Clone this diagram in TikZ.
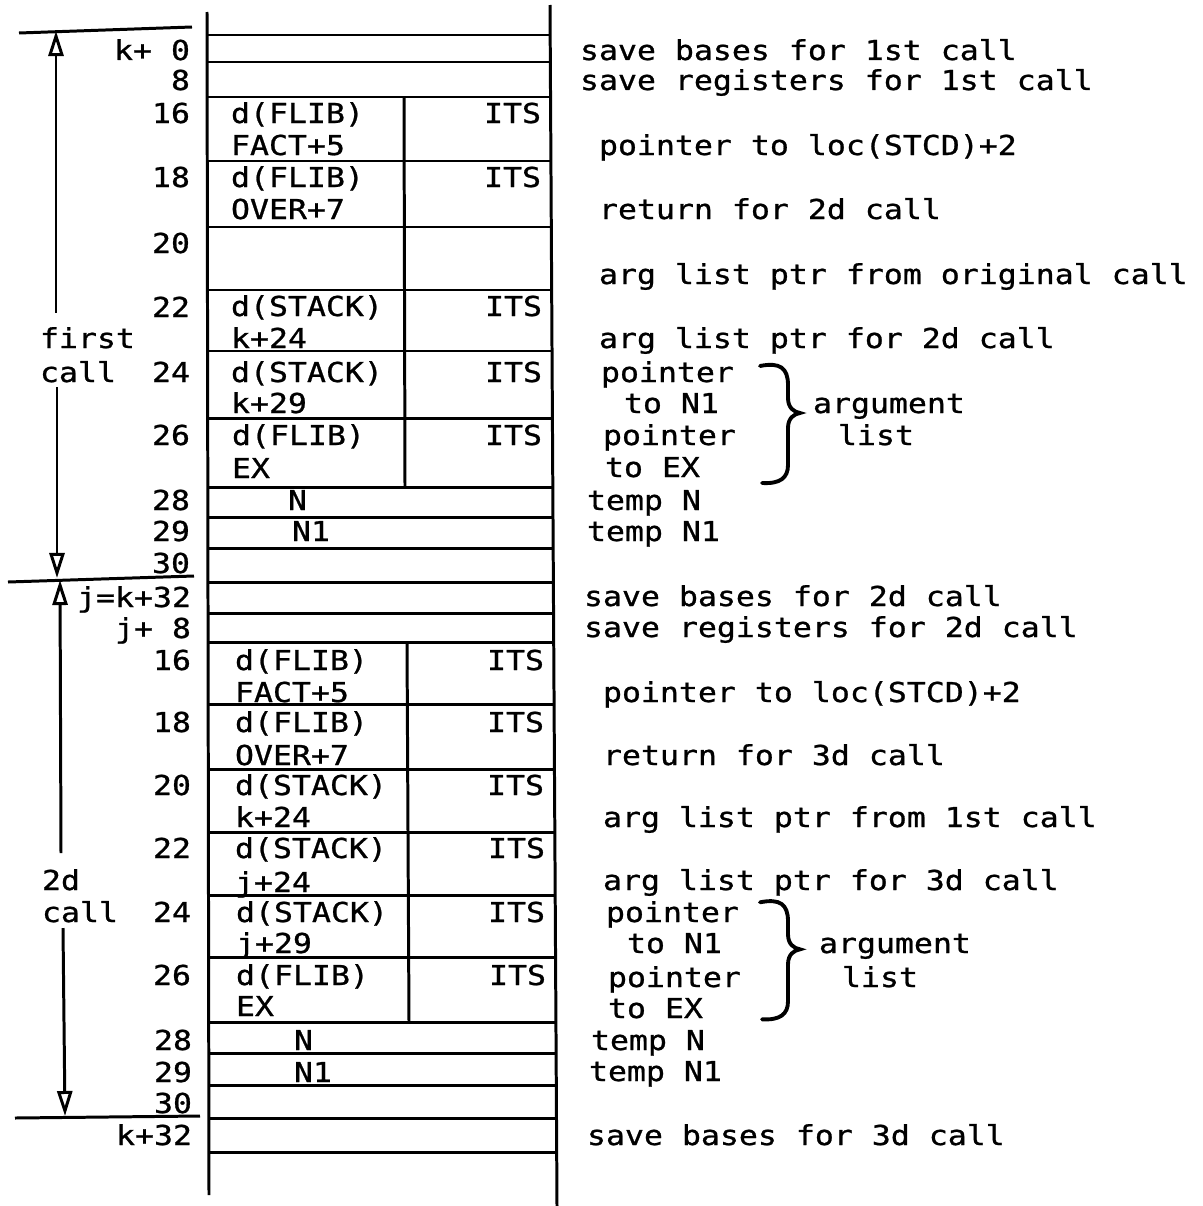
\documentclass[tikz,border=0pt]{standalone}
\usepackage{fontspec}
\newfontfamily\tw[FakeStretch=1.15,FakeBold=0.9]{DejaVu Sans Mono}
\usetikzlibrary{arrows.meta}
\begin{document}
\begin{tikzpicture}[x=0.01cm,y=-0.01cm,
  txt/.style={inner sep=0pt, outer sep=0pt, font=\tw\fontsize{7.8pt}{9pt}\selectfont},
  lab/.style={txt, anchor=base east},
  celltxt/.style={txt, anchor=base west},
  desc/.style={txt, anchor=base west},
  rule/.style={line width=0.85pt},
  span/.style={line width=0.85pt},
  tipup/.style={line width=0.85pt, {Triangle[open,length=0.25cm,width=0.15cm]}-},
  tipdown/.style={line width=0.85pt, -{Triangle[open,length=0.25cm,width=0.15cm]}},
  bracestroke/.style={line width=1.1pt, line cap=round}]
\fill[white] (0,0) rectangle (1203,1206);
\useasboundingbox (0,0) rectangle (1203,1206);

% ---------- stack box ----------
\draw[rule] (207,12) -- (209,1195);
\draw[rule] (550,5) -- (557,1206);
\foreach \yy in {35,62,97,161,227,290,351,418,487,517,548,582,613,642,704,769,832,895,957,1022,1053,1085,1118,1152}
  \draw[rule] (208,\yy) -- ({550+0.0058*\yy},\yy);
\draw[rule] (404,97) -- (405,487);
\draw[rule] (407,642) -- (409,1022);

% ---------- call extents ----------
\draw[span] (19,33) -- (192,27);
\draw[span] (8,582) -- (194,576);
\draw[span] (15,1118) -- (200,1116);

\coordinate (a1t) at (56,31);
\coordinate (a1m) at (56,313);
\coordinate (a1n) at (57,387);
\coordinate (a1b) at (57,578);
\draw[tipup] (a1t) -- (a1m);
\draw[tipdown] (a1n) -- (a1b);
\node[celltxt] (first) at (40,348) {first};
\node[celltxt] (firstcall) at (40,382) {call};

\coordinate (a2t) at (60,580);
\coordinate (a2m) at (61,853);
\coordinate (a2n) at (63,928);
\coordinate (a2b) at (65,1116);
\draw[tipup] (a2t) -- (a2m);
\draw[tipdown] (a2n) -- (a2b);
\node[celltxt] (second) at (42,890) {2d};
\node[celltxt] (secondcall) at (42,922) {call};

% ---------- offsets ----------
\node[lab] (o1) at (190,60) {k+ 0};
\node[lab] (o2) at (190,90) {8};
\node[lab] (o3) at (190,123) {16};
\node[lab] (o4) at (190,187) {18};
\node[lab] (o5) at (190,253) {20};
\node[lab] (o6) at (190,317) {22};
\node[lab] (o7) at (190,382) {24};
\node[lab] (o8) at (190,445) {26};
\node[lab] (o9) at (190,510) {28};
\node[lab] (o10) at (190,541) {29};
\node[lab] (o11) at (190,573) {30};
\node[lab] (p1) at (191,607) {j=k+32};
\node[lab] (p2) at (191,638) {j+ 8};
\node[lab] (p3) at (191,670) {16};
\node[lab] (p4) at (191,732) {18};
\node[lab] (p5) at (191,795) {20};
\node[lab] (p6) at (191,858) {22};
\node[lab] (p7) at (191,922) {24};
\node[lab] (p8) at (191,985) {26};
\node[lab] (p9) at (192,1050) {28};
\node[lab] (p10) at (192,1082) {29};
\node[lab] (p11) at (192,1113) {30};
\node[lab] (p12) at (192,1145) {k+32};

% ---------- cells, first call ----------
\node[celltxt] (c1a) at (231,123) {d(FLIB)};
\node[celltxt] (c1b) at (231,155) {FACT+5};
\node[lab] (c1c) at (541,123) {ITS};
\node[celltxt] (c2a) at (231,187) {d(FLIB)};
\node[celltxt] (c2b) at (231,219) {OVER+7};
\node[lab] (c2c) at (541,187) {ITS};
\node[celltxt] (c3a) at (231,316) {d(STACK)};
\node[celltxt] (c3b) at (231,348) {k+24};
\node[lab] (c3c) at (542,316) {ITS};
\node[celltxt] (c4a) at (231,382) {d(STACK)};
\node[celltxt] (c4b) at (231,413) {k+29};
\node[lab] (c4c) at (542,382) {ITS};
\node[celltxt] (c5a) at (232,445) {d(FLIB)};
\node[celltxt] (c5b) at (232,478) {EX};
\node[lab] (c5c) at (542,445) {ITS};
\node[celltxt] (c6) at (288,510) {N};
\node[celltxt] (c7) at (292,541) {N1};

% ---------- cells, second call ----------
\node[celltxt] (d1a) at (235,670) {d(FLIB)};
\node[celltxt] (d1b) at (235,702) {FACT+5};
\node[lab] (d1c) at (544,670) {ITS};
\node[celltxt] (d2a) at (235,732) {d(FLIB)};
\node[celltxt] (d2b) at (235,765) {OVER+7};
\node[lab] (d2c) at (544,732) {ITS};
\node[celltxt] (d3a) at (235,795) {d(STACK)};
\node[celltxt] (d3b) at (235,827) {k+24};
\node[lab] (d3c) at (544,795) {ITS};
\node[celltxt] (d4a) at (235,858) {d(STACK)};
\node[celltxt] (d4b) at (235,892) {j+24};
\node[lab] (d4c) at (545,858) {ITS};
\node[celltxt] (d5a) at (236,922) {d(STACK)};
\node[celltxt] (d5b) at (236,953) {j+29};
\node[lab] (d5c) at (545,922) {ITS};
\node[celltxt] (d6a) at (236,985) {d(FLIB)};
\node[celltxt] (d6b) at (236,1016) {EX};
\node[lab] (d6c) at (546,985) {ITS};
\node[celltxt] (d7) at (294,1050) {N};
\node[celltxt] (d8) at (294,1082) {N1};

% ---------- descriptions ----------
\node[desc] (e1) at (580,60) {save bases for 1st call};
\node[desc] (e2) at (580,90) {save registers for 1st call};
\node[desc] (e3) at (599,155) {pointer to loc(STCD)+2};
\node[desc] (e4) at (599,219) {return for 2d call};
\node[desc] (e5) at (599,284) {arg list ptr from original call};
\node[desc] (e6) at (599,348) {arg list ptr for 2d call};
\node[desc] (e7) at (601,382) {pointer};
\node[desc] (e8) at (624,413) {to N1};
\node[desc] (e9) at (603,445) {pointer};
\node[desc] (e10) at (605,477) {to EX};
\node[desc] (e11) at (813,413) {argument};
\node[desc] (e12) at (838,445) {list};
\node[desc] (e13) at (587,510) {temp N};
\node[desc] (e14) at (587,541) {temp N1};

\node[desc] (f1) at (584,606) {save bases for 2d call};
\node[desc] (f2) at (584,637) {save registers for 2d call};
\node[desc] (f3) at (603,702) {pointer to loc(STCD)+2};
\node[desc] (f4) at (603,765) {return for 3d call};
\node[desc] (f5) at (603,827) {arg list ptr from 1st call};
\node[desc] (f6) at (603,890) {arg list ptr for 3d call};
\node[desc] (f7) at (606,922) {pointer};
\node[desc] (f8) at (627,953) {to N1};
\node[desc] (f9) at (608,987) {pointer};
\node[desc] (f10) at (608,1018) {to EX};
\node[desc] (f11) at (819,953) {argument};
\node[desc] (f12) at (842,987) {list};
\node[desc] (f13) at (591,1050) {temp N};
\node[desc] (f14) at (589,1081) {temp N1};
\node[desc] (f15) at (587,1145) {save bases for 3d call};

% ---------- braces ----------
\draw[bracestroke] (760,366) .. controls (780,362) and (788,368) .. (788,385) -- (788,398)
  .. controls (788,408) and (794,412) .. (800,413)
  .. controls (794,414) and (788,418) .. (788,428) -- (788,465)
  .. controls (788,478) and (780,484) .. (762,483);
\begin{scope}[yshift=-5.36cm]
\draw[bracestroke] (760,366) .. controls (780,362) and (788,368) .. (788,385) -- (788,398)
  .. controls (788,408) and (794,412) .. (800,413)
  .. controls (794,414) and (788,418) .. (788,428) -- (788,465)
  .. controls (788,478) and (780,484) .. (762,483);
\end{scope}
\end{tikzpicture}
\end{document}
